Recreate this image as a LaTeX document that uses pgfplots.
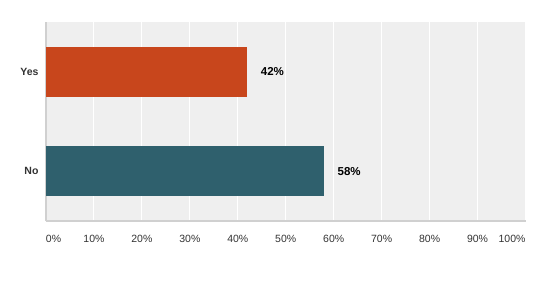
\documentclass[border=0pt]{standalone}
\usepackage{pgfplots}
\pgfplotsset{compat=1.18}
\usepackage{fontspec}
\setmainfont{Liberation Sans}
\definecolor{bgcol}{HTML}{EFEFEF}
\definecolor{yescol}{HTML}{C8461C}
\definecolor{nocol}{HTML}{2F606D}
\definecolor{axcol}{HTML}{D0D0D0}
\definecolor{txtcol}{HTML}{333333}
\begin{document}
\begin{tikzpicture}[x=1pt,y=1pt]
\useasboundingbox (0,0) rectangle (541,285);
\begin{axis}[
  at={(46pt,64pt)}, anchor=south west,
  scale only axis, width=479.5pt, height=199pt,
  xbar, bar width=50pt, bar shift=0pt,
  xmin=0, xmax=100, ymin=-0.5, ymax=1.5,
  axis background/.style={fill=bgcol},
  axis x line*=bottom, axis y line*=left,
  axis line style={-, draw=axcol, line width=1.2pt},
  xtick={0,10,...,100},
  xticklabels={\makebox[0pt][l]{0\%},10\%,20\%,30\%,40\%,50\%,60\%,70\%,80\%,90\%,\makebox[0pt][r]{100\%}},
  ytick={0,1}, yticklabels={No,Yes},
  major tick length=0pt,
  xmajorgrids, ymajorgrids=false,
  major grid style={white, line width=1pt},
  xticklabel style={font=\fontsize{10.5}{12}\selectfont, text=txtcol, anchor=north, yshift=-11pt},
  yticklabel style={font=\bfseries\fontsize{10.5}{12}\selectfont, text=txtcol, anchor=east, xshift=-4pt},
  /pgf/number format/assume math mode=true,
  nodes near coords={\pgfmathprintnumber{\pgfplotspointmeta}\%},
  point meta=x,
  every node near coord/.append style={font=\bfseries\fontsize{11.5}{13}\selectfont, text=black, anchor=west, xshift=10pt},
]
\addplot[fill=yescol, draw=none] coordinates {(42,1)};
\addplot[fill=nocol, draw=none] coordinates {(58,0)};
\end{axis}
\end{tikzpicture}
\end{document}
